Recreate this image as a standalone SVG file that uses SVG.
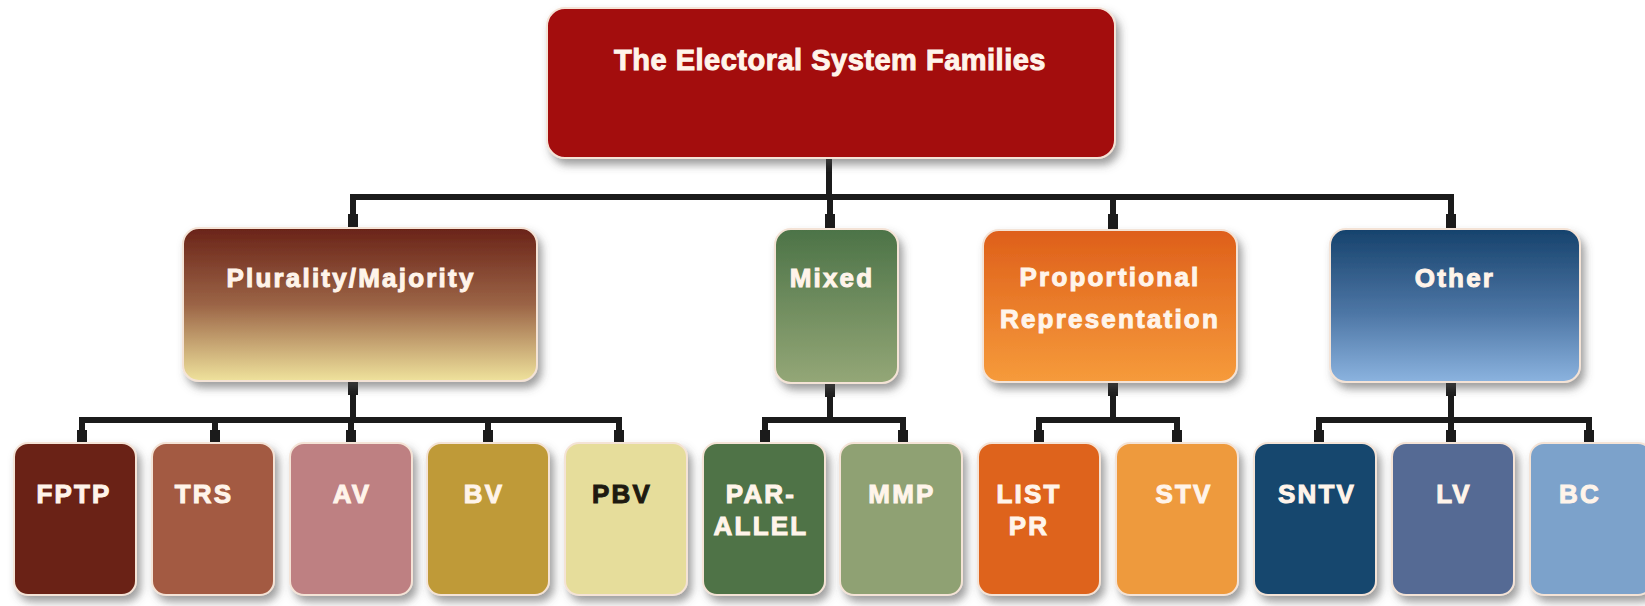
<svg xmlns="http://www.w3.org/2000/svg" width="1645" height="606" viewBox="0 0 1645 606">
<style>
.t{font-family:"Liberation Sans",Arial,sans-serif;font-weight:bold;font-size:26px;letter-spacing:2.2px;fill:#FFF4EA;stroke:#FFF4EA;stroke-width:1;text-anchor:middle}
.title{font-size:29px;letter-spacing:0.5px}
.dark{fill:#1E1A10;stroke:#1E1A10}
.box{stroke:#F4E3D6;stroke-width:2;filter:url(#sh)}
.wire{fill:none;stroke:#1B1B1B;stroke-width:6;stroke-linejoin:miter}
.nub{fill:#1B1B1B}
</style>
<defs>
<filter id="sh" x="-10%" y="-10%" width="130%" height="130%">
<feDropShadow dx="4" dy="6" stdDeviation="4" flood-color="#505050" flood-opacity="0.55"/>
</filter>
<linearGradient id="gPM" x1="0" y1="0" x2="0" y2="1">
<stop offset="0" stop-color="#6A2318"/><stop offset="0.5" stop-color="#9B6446"/><stop offset="1" stop-color="#EFE29C"/>
</linearGradient>
<linearGradient id="gMX" x1="0" y1="0" x2="0" y2="1">
<stop offset="0" stop-color="#4C7347"/><stop offset="1" stop-color="#94A777"/>
</linearGradient>
<linearGradient id="gPR" x1="0" y1="0" x2="0" y2="1">
<stop offset="0" stop-color="#DE5F1A"/><stop offset="1" stop-color="#F69B3B"/>
</linearGradient>
<linearGradient id="gOT" x1="0" y1="0" x2="0" y2="1">
<stop offset="0" stop-color="#16426C"/><stop offset="0.55" stop-color="#4D76A5"/><stop offset="1" stop-color="#8BB3DF"/>
</linearGradient>
</defs>
<rect width="1645" height="606" fill="#FFFFFF"/>

<g id="connectors">
<path class="wire" d="M829 158 V197"/>
<path class="wire" d="M353 229 V197 H1451 V229"/>
<path class="wire" d="M830 197 V229"/>
<path class="wire" d="M1113 197 V230"/>
<path class="wire" d="M353 381 V420"/>
<path class="wire" d="M82 443 V420 H619 V443"/>
<path class="wire" d="M215 420 V443 M351 420 V443 M488 420 V443"/>
<path class="wire" d="M830 383 V420"/>
<path class="wire" d="M765 443 V420 H903 V443"/>
<path class="wire" d="M1113 382 V420"/>
<path class="wire" d="M1039 443 V420 H1177 V443"/>
<path class="wire" d="M1451 382 V420"/>
<path class="wire" d="M1319 443 V420 H1589 V443"/>
<path class="wire" d="M1451 420 V443"/>
<rect class="nub" x="348" y="214" width="10" height="15"/>
<rect class="nub" x="825" y="214" width="10" height="15"/>
<rect class="nub" x="1108" y="214" width="10" height="16"/>
<rect class="nub" x="1446" y="214" width="10" height="15"/>
<rect class="nub" x="77" y="430" width="10" height="13"/>
<rect class="nub" x="210" y="430" width="10" height="13"/>
<rect class="nub" x="346" y="430" width="10" height="13"/>
<rect class="nub" x="483" y="430" width="10" height="13"/>
<rect class="nub" x="614" y="430" width="10" height="13"/>
<rect class="nub" x="760" y="430" width="10" height="13"/>
<rect class="nub" x="898" y="430" width="10" height="13"/>
<rect class="nub" x="1034" y="430" width="10" height="13"/>
<rect class="nub" x="1172" y="430" width="10" height="13"/>
<rect class="nub" x="1314" y="430" width="10" height="13"/>
<rect class="nub" x="1446" y="430" width="10" height="13"/>
<rect class="nub" x="1584" y="430" width="10" height="13"/>
<rect class="nub" x="348" y="381" width="10" height="14"/>
<rect class="nub" x="825" y="383" width="10" height="14"/>
<rect class="nub" x="1108" y="382" width="10" height="14"/>
<rect class="nub" x="1446" y="382" width="10" height="14"/>
</g>

<g id="root">
<rect class="box" x="547" y="8" width="568" height="150" rx="18" fill="#A3070F"/>
<text class="t title" x="830" y="70">The Electoral System Families</text>
</g>

<g id="plurality-majority">
<rect class="box" x="183" y="228" width="354" height="153" rx="16" fill="url(#gPM)"/>
<text class="t" x="351" y="287">Plurality/Majority</text>
</g>
<g id="mixed">
<rect class="box" x="775" y="229" width="123" height="154" rx="16" fill="url(#gMX)"/>
<text class="t" x="832" y="287">Mixed</text>
</g>
<g id="proportional-representation">
<rect class="box" x="983" y="230" width="254" height="152" rx="16" fill="url(#gPR)"/>
<text class="t" x="1110" y="286">Proportional</text>
<text class="t" x="1110" y="328">Representation</text>
</g>
<g id="other">
<rect class="box" x="1330" y="229" width="250" height="153" rx="16" fill="url(#gOT)"/>
<text class="t" x="1455" y="287">Other</text>
</g>

<g id="fptp">
<rect class="box" x="14" y="443" width="122" height="152" rx="14" fill="#6B2417"/>
<text class="t" x="74" y="503">FPTP</text>
</g>
<g id="trs">
<rect class="box" x="152" y="443" width="122" height="152" rx="14" fill="#A35A42"/>
<text class="t" x="204" y="503">TRS</text>
</g>
<g id="av">
<rect class="box" x="290" y="443" width="122" height="152" rx="14" fill="#BE8082"/>
<text class="t" x="352" y="503">AV</text>
</g>
<g id="bv">
<rect class="box" x="427" y="443" width="122" height="152" rx="14" fill="#BF9A37"/>
<text class="t" x="484" y="503">BV</text>
</g>
<g id="pbv">
<rect class="box" x="565" y="443" width="122" height="152" rx="14" fill="#E6DD9B"/>
<text class="t dark" x="622" y="503">PBV</text>
</g>
<g id="parallel">
<rect class="box" x="703" y="443" width="122" height="152" rx="14" fill="#4F7346"/>
<text class="t" x="761" y="503">PAR-</text>
<text class="t" x="761" y="535">ALLEL</text>
</g>
<g id="mmp">
<rect class="box" x="840" y="443" width="122" height="152" rx="14" fill="#8FA173"/>
<text class="t" x="902" y="503">MMP</text>
</g>
<g id="list-pr">
<rect class="box" x="978" y="443" width="122" height="152" rx="14" fill="#DE631B"/>
<text class="t" x="1029" y="503">LIST</text>
<text class="t" x="1029" y="535">PR</text>
</g>
<g id="stv">
<rect class="box" x="1116" y="443" width="122" height="152" rx="14" fill="#EE9A3C"/>
<text class="t" x="1184" y="503">STV</text>
</g>
<g id="sntv">
<rect class="box" x="1254" y="443" width="122" height="152" rx="14" fill="#17466E"/>
<text class="t" x="1317" y="503">SNTV</text>
</g>
<g id="lv">
<rect class="box" x="1392" y="443" width="122" height="152" rx="14" fill="#546A94"/>
<text class="t" x="1454" y="503">LV</text>
</g>
<g id="bc">
<rect class="box" x="1530" y="443" width="122" height="152" rx="14" fill="#7BA2CB"/>
<text class="t" x="1580" y="503">BC</text>
</g>
</svg>
